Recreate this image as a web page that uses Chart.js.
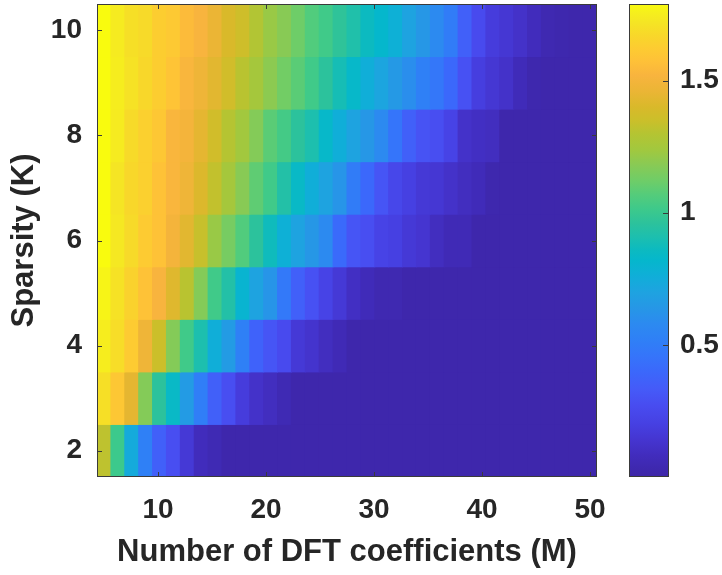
<!DOCTYPE html>
<html>
<head>
<meta charset="utf-8">
<script src="https://cdn.jsdelivr.net/npm/chart.js@4.4.1/dist/chart.umd.min.js"></script>
<style>
    html, body { margin: 0; padding: 0; background: #fff; }
    #wrap { position: relative; width: 722px; height: 575px; }
    #heat { position: absolute; left: 0; top: 0; }
    #cbar { position: absolute; left: 600px; top: 0; }
</style>
</head>
<body>
<div id="wrap">
    <canvas id="heat" width="722" height="575"></canvas>
    <canvas id="cbar" width="122" height="575"></canvas>
</div>
<script>
// M axis: 36 columns between 5 and 50
const mValues = [5, 6.286, 7.571, 8.857, 10.143, 11.429, 12.714, 14, 15.286, 16.571, 17.857, 19.143,
    20.429, 21.714, 23, 24.286, 25.571, 26.857, 28.143, 29.429, 30.714, 32, 33.286, 34.571,
    35.857, 37.143, 38.429, 39.714, 41, 42.286, 43.571, 44.857, 46.143, 47.429, 48.714, 50];
const kValues = [10, 9, 8, 7, 6, 5, 4, 3, 2];

const errK10 = [1.79, 1.74, 1.70, 1.68, 1.63, 1.61, 1.55, 1.52, 1.46, 1.40, 1.36, 1.29, 1.22, 1.18, 1.12, 1.06, 1.02, 0.97,
    0.92, 0.86, 0.82, 0.77, 0.70, 0.64, 0.58, 0.50, 0.36, 0.26, 0.18, 0.15, 0.12, 0.08, 0.04, 0.03, 0.02, 0.02];
const errK9 = [1.79, 1.75, 1.71, 1.67, 1.63, 1.59, 1.53, 1.48, 1.43, 1.37, 1.31, 1.25, 1.19, 1.13, 1.08, 1.02, 0.96, 0.89,
    0.83, 0.76, 0.71, 0.65, 0.60, 0.52, 0.47, 0.40, 0.29, 0.19, 0.15, 0.12, 0.07, 0.03, 0.02, 0.02, 0.02, 0.02];
const errK8 = [1.79, 1.74, 1.68, 1.64, 1.60, 1.53, 1.50, 1.44, 1.37, 1.30, 1.24, 1.17, 1.08, 1.03, 0.96, 0.91, 0.83, 0.76,
    0.70, 0.64, 0.58, 0.46, 0.36, 0.30, 0.28, 0.22, 0.12, 0.10, 0.09, 0.02, 0.02, 0.02, 0.02, 0.02, 0.02, 0.02];
const errK7 = [1.79, 1.72, 1.67, 1.64, 1.58, 1.53, 1.48, 1.41, 1.33, 1.25, 1.18, 1.09, 1.02, 0.93, 0.84, 0.76, 0.70, 0.63,
    0.50, 0.40, 0.31, 0.24, 0.20, 0.16, 0.15, 0.12, 0.09, 0.07, 0.03, 0.02, 0.02, 0.02, 0.02, 0.02, 0.02, 0.02];
const errK6 = [1.79, 1.73, 1.68, 1.62, 1.58, 1.50, 1.43, 1.34, 1.22, 1.14, 1.06, 0.96, 0.87, 0.77, 0.70, 0.64, 0.58, 0.41,
    0.31, 0.28, 0.22, 0.20, 0.16, 0.14, 0.09, 0.06, 0.06, 0.02, 0.02, 0.02, 0.02, 0.02, 0.02, 0.02, 0.02, 0.02];
const errK5 = [1.77, 1.71, 1.65, 1.58, 1.52, 1.42, 1.31, 1.17, 1.02, 0.93, 0.80, 0.70, 0.63, 0.48, 0.36, 0.29, 0.22, 0.16,
    0.10, 0.07, 0.04, 0.04, 0.02, 0.02, 0.02, 0.02, 0.02, 0.02, 0.02, 0.02, 0.02, 0.02, 0.02, 0.02, 0.02, 0.02];
const errK4 = [1.75, 1.69, 1.62, 1.48, 1.35, 1.17, 1.02, 0.91, 0.76, 0.66, 0.52, 0.37, 0.31, 0.26, 0.16, 0.13, 0.09, 0.06,
    0.02, 0.02, 0.02, 0.02, 0.02, 0.02, 0.02, 0.02, 0.02, 0.02, 0.02, 0.02, 0.02, 0.02, 0.02, 0.02, 0.02, 0.02];
const errK3 = [1.70, 1.60, 1.44, 1.17, 0.96, 0.84, 0.66, 0.51, 0.36, 0.28, 0.18, 0.12, 0.09, 0.05, 0.02, 0.02, 0.02, 0.02,
    0.02, 0.02, 0.02, 0.02, 0.02, 0.02, 0.02, 0.02, 0.02, 0.02, 0.02, 0.02, 0.02, 0.02, 0.02, 0.02, 0.02, 0.02];
const errK2 = [1.32, 1.01, 0.74, 0.52, 0.36, 0.28, 0.16, 0.08, 0.05, 0.02, 0.02, 0.02, 0.02, 0.02, 0.02, 0.02, 0.02, 0.02,
    0.02, 0.02, 0.02, 0.02, 0.02, 0.02, 0.02, 0.02, 0.02, 0.02, 0.02, 0.02, 0.02, 0.02, 0.02, 0.02, 0.02, 0.02];
const errRows = [errK10, errK9, errK8, errK7, errK6, errK5, errK4, errK3, errK2];

const xTicks = [10, 20, 30, 40, 50];
const yTicks = [2, 4, 6, 8, 10];
const cbarTicks = [0.5, 1, 1.5];
const cMin = 0;
const cMax = 1.79;

const textColor = '#262626';
const fontFamily = '"Liberation Sans", Arial, sans-serif';

// parula-like colormap, stops as [value, colour]
const CMAP = [
    [0.00, '#3E26A8'], [0.03, '#3E28AE'], [0.08, '#412CBC'], [0.14, '#4535D0'],
    [0.20, '#4640E2'], [0.27, '#484CF0'], [0.33, '#455AF8'], [0.40, '#3B68FB'],
    [0.46, '#3575FA'], [0.52, '#2F80F6'], [0.58, '#2C8AF0'], [0.64, '#2697E6'],
    [0.70, '#1EA3E0'], [0.76, '#10AED8'], [0.82, '#05B7CC'], [0.86, '#0CBAC0'],
    [0.91, '#1DBFAE'], [0.96, '#2CC29C'], [1.01, '#3CC98C'], [1.07, '#55CC7A'],
    [1.12, '#6ECD68'], [1.18, '#88CA55'], [1.24, '#A2C83E'], [1.30, '#B5C432'],
    [1.35, '#CBBF2A'], [1.40, '#D9B92A'], [1.46, '#EBB535'], [1.52, '#F8B43E'],
    [1.57, '#FEC038'], [1.62, '#FDCB32'], [1.67, '#F8D72A'], [1.72, '#F5E524'],
    [1.76, '#F6F01C'], [1.79, '#F9FB0E']
];

function hexRgb(h) {
    return [1, 3, 5].map((i) => parseInt(h.slice(i, i + 2), 16));
}

function valueColor(v) {
    if (v <= CMAP[0][0]) return CMAP[0][1];
    for (let i = 1; i < CMAP.length; i++) {
        const [v1, h1] = CMAP[i];
        const [v0, h0] = CMAP[i - 1];
        if (v <= v1) {
            const f = (v - v0) / (v1 - v0);
            const c0 = hexRgb(h0);
            const c1 = hexRgb(h1);
            const c = c0.map((x, j) => Math.round(x + (c1[j] - x) * f));
            return `rgb(${c[0]},${c[1]},${c[2]})`;
        }
    }
    return CMAP[CMAP.length - 1][1];
}

const boxTicks = {
    id: 'boxTicks',
    afterDatasetsDraw(chart, args, opts) {
        const { ctx, chartArea: a, scales } = chart;
        const len = opts.length || 5;
        ctx.save();
        ctx.strokeStyle = opts.color;
        ctx.lineWidth = 1;
        ctx.beginPath();
        if (opts.xTicks) {
            scales.x.ticks.forEach((t) => {
                const p = Math.round(scales.x.getPixelForValue(t.value)) + 0.5;
                ctx.moveTo(p, a.bottom); ctx.lineTo(p, a.bottom - len);
                ctx.moveTo(p, a.top); ctx.lineTo(p, a.top + len);
            });
        }
        scales.y.ticks.forEach((t) => {
            const p = Math.round(scales.y.getPixelForValue(t.value)) + 0.5;
            if (opts.leftTicks) { ctx.moveTo(a.left, p); ctx.lineTo(a.left + len, p); }
            ctx.moveTo(a.right, p); ctx.lineTo(a.right - len, p);
        });
        ctx.stroke();
        ctx.strokeRect(a.left + 0.5, a.top + 0.5, a.right - a.left - 1, a.bottom - a.top - 1);
        ctx.restore();
    }
};

function zeroPadding(scale) {
    scale.paddingTop = 0;
    scale.paddingBottom = 0;
    scale.paddingLeft = 0;
    scale.paddingRight = 0;
}

const tickFont = { family: fontFamily, size: 28, weight: 'bold' };
const titleFont = { family: fontFamily, size: 31, weight: 'bold' };

const heatDatasets = errRows.map((row, i) => {
    const k = kValues[i];
    return {
        data: mValues.map((m, j) => ({ x: m, y: [k - 0.5, k + 0.5], v: row[j] })),
        backgroundColor: (c) => valueColor(c.raw.v),
        borderWidth: 0,
        inflateAmount: 0.5,
        grouped: false,
        barPercentage: 1,
        categoryPercentage: 1
    };
});

new Chart(document.getElementById('heat'), {
    type: 'bar',
    data: { datasets: heatDatasets },
    options: {
        responsive: false,
        animation: false,
        events: [],
        layout: { padding: { left: 0, right: 125, top: 4, bottom: 0 } },
        plugins: {
            legend: { display: false },
            tooltip: { enabled: false },
            boxTicks: { color: '#3a3a3a', length: 5, xTicks: true, leftTicks: true }
        },
        scales: {
            x: {
                type: 'linear',
                min: 4.357,
                max: 50.643,
                offset: false,
                grid: { display: false, drawTicks: false },
                border: { display: false },
                ticks: { font: tickFont, color: textColor, padding: 16, maxRotation: 0, autoSkip: false },
                afterBuildTicks: (s) => { s.ticks = xTicks.map((value) => ({ value })); },
                afterFit: (s) => { s.height = 98; zeroPadding(s); },
                title: {
                    display: true,
                    text: 'Number of DFT coefficients (M)',
                    font: titleFont,
                    color: textColor,
                    padding: { top: 0, bottom: 4 }
                }
            },
            y: {
                type: 'linear',
                min: 1.5,
                max: 10.5,
                grid: { display: false, drawTicks: false },
                border: { display: false },
                ticks: { font: tickFont, color: textColor, padding: 15, autoSkip: false },
                afterBuildTicks: (s) => { s.ticks = yTicks.map((value) => ({ value })); },
                afterFit: (s) => { s.width = 97; zeroPadding(s); },
                title: {
                    display: true,
                    text: 'Sparsity (K)',
                    font: titleFont,
                    color: textColor,
                    padding: { top: 6, bottom: 0 }
                }
            }
        }
    },
    plugins: [boxTicks]
});

new Chart(document.getElementById('cbar'), {
    type: 'bar',
    data: {
        labels: [''],
        datasets: [{
            data: [[cMin, cMax]],
            backgroundColor: (c) => {
                const area = c.chart.chartArea;
                if (!area) return valueColor(cMax);
                const g = c.chart.ctx.createLinearGradient(0, area.bottom, 0, area.top);
                CMAP.forEach(([v, col]) => g.addColorStop((v - cMin) / (cMax - cMin), col));
                return g;
            },
            borderWidth: 0,
            barPercentage: 1,
            categoryPercentage: 1
        }]
    },
    options: {
        responsive: false,
        animation: false,
        events: [],
        layout: { padding: { left: 29, right: 0, top: 4, bottom: 98 } },
        plugins: {
            legend: { display: false },
            tooltip: { enabled: false },
            boxTicks: { color: '#3a3a3a', length: 6, xTicks: false, leftTicks: false }
        },
        scales: {
            x: { display: false },
            y: {
                position: 'right',
                min: cMin,
                max: cMax,
                grid: { display: false, drawTicks: false },
                border: { display: false },
                ticks: {
                    font: tickFont,
                    color: textColor,
                    padding: 11,
                    autoSkip: false,
                    callback: (v) => String(v)
                },
                afterBuildTicks: (s) => { s.ticks = cbarTicks.map((value) => ({ value })); },
                afterFit: (s) => { s.width = 53; zeroPadding(s); }
            }
        }
    },
    plugins: [boxTicks]
});
</script>
</body>
</html>
